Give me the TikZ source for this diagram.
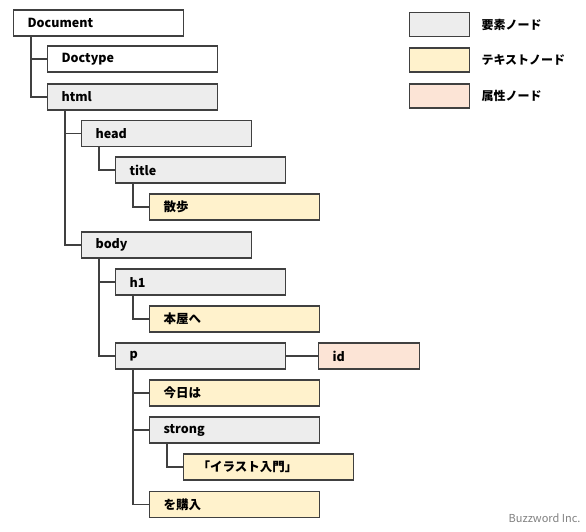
\documentclass[tikz,border=0pt]{standalone}
\usepackage{fontspec}
\setmainfont{Noto Sans CJK JP}
\definecolor{elemfill}{HTML}{EDEDED}
\definecolor{textfill}{HTML}{FFF2CC}
\definecolor{attrfill}{HTML}{FCE4D6}
\definecolor{edgegray}{HTML}{404040}
\begin{document}
\begin{tikzpicture}[x=1pt,y=-1pt,
  box/.style={draw=edgegray,line width=1.1pt,rectangle,anchor=west,minimum height=26pt,
    inner xsep=14pt,inner ysep=0pt,text width=142pt,align=left,
    font=\fontsize{12.5}{14}\selectfont\bfseries},
  elem/.style={box,fill=elemfill},
  txt/.style={box,fill=textfill},
  attr/.style={box,fill=attrfill,text width=73pt},
  plain/.style={box,fill=white},
  keybox/.style={draw=edgegray,line width=1.1pt,rectangle,minimum width=60pt,minimum height=24pt,anchor=west},
  keylabel/.style={anchor=west,font=\fontsize{12}{14}\selectfont\bfseries},
  link/.style={draw=edgegray,line width=1.1pt}]
\useasboundingbox (0,0) rectangle (586,531);
% tree
\node[plain] (doc) at (13,23) {Document};
\node[plain] (doctype) at (47,59) {Doctype};
\node[elem] (html) at (47,97) {html};
\node[elem] (head) at (81,133.5) {head};
\node[elem] (title) at (115,170) {title};
\node[txt] (sanpo) at (149,207) {散歩};
\node[elem] (body) at (81,245) {body};
\node[elem] (hone) at (115,282) {h1};
\node[txt] (honya) at (149,319) {本屋へ};
\node[elem] (para) at (115,356) {p};
\node[attr] (id) at (318,356) {id};
\node[txt] (kyou) at (149,393) {今日は};
\node[elem] (strong) at (149,430) {strong};
\node[txt] (illust) at (183,467) {「イラスト入門」};
\node[txt] (kounyu) at (149,504.5) {を購入};
\draw[link] ([xshift=18pt]doc.south west) |- (doctype.west);
\draw[link] ([xshift=18pt]doc.south west) |- (html.west);
\draw[link] ([xshift=18pt]html.south west) |- (head.west);
\draw[link] ([xshift=18pt]html.south west) |- (body.west);
\draw[link] ([xshift=18pt]head.south west) |- (title.west);
\draw[link] ([xshift=18pt]title.south west) |- (sanpo.west);
\draw[link] ([xshift=18pt]body.south west) |- (hone.west);
\draw[link] ([xshift=18pt]body.south west) |- (para.west);
\draw[link] ([xshift=18pt]hone.south west) |- (honya.west);
\draw[link] (para.east) -- (id.west);
\draw[link] ([xshift=18pt]para.south west) |- (kyou.west);
\draw[link] ([xshift=18pt]para.south west) |- (strong.west);
\draw[link] ([xshift=18pt]para.south west) |- (kounyu.west);
\draw[link] ([xshift=18pt]strong.south west) |- (illust.west);
% legend
\node[keybox,fill=elemfill] (keyelem) at (409,24.5) {};
\node[keybox,fill=textfill] (keytext) at (409,60) {};
\node[keybox,fill=attrfill] (keyattr) at (409,96) {};
\node[keylabel] (labelem) at (478,24.5) {要素ノード};
\node[keylabel] (labtext) at (478,60) {テキストノード};
\node[keylabel] (labattr) at (478,96) {属性ノード};
\node[anchor=east,text=gray,font=\fontsize{11}{13}\selectfont] (mark) at (584,518) {Buzzword Inc.};
\end{tikzpicture}
\end{document}
